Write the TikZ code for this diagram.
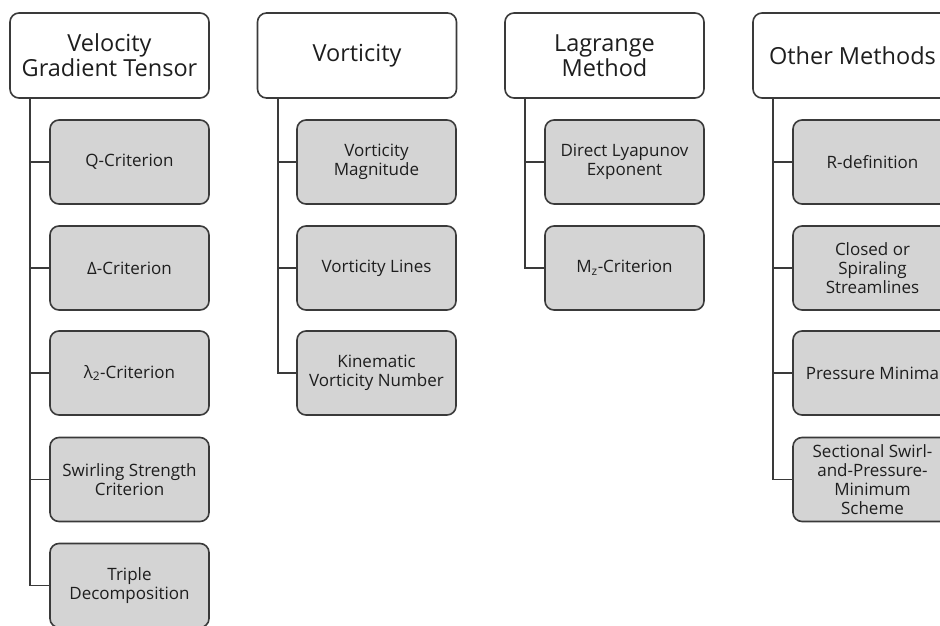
\documentclass[tikz,border=0pt]{standalone}
\usepackage{fontspec}
\setmainfont{Open Sans}
\begin{document}
\begin{tikzpicture}[x=1pt,y=-1pt,
  hdr/.style={draw=boxline, line width=1.6pt, fill=white, rounded corners=9pt,
    minimum width=199pt, minimum height=85pt, align=center, text=txt,
    font=\fontsize{23.5}{25}\selectfont, inner sep=2pt},
  child/.style={draw=boxline, line width=1.6pt, fill=boxfill, rounded corners=9pt,
    minimum width=159pt, minimum height=84pt, align=center, text=txt,
    font=\fontsize{17}{19}\selectfont, inner sep=1pt},
  conn/.style={draw=boxline, line width=1.6pt}]
\definecolor{boxline}{HTML}{3A3A3A}
\definecolor{boxfill}{HTML}{D4D4D4}
\definecolor{txt}{HTML}{1E1E1E}
\useasboundingbox (0,0) rectangle (940,626);
\clip (0,0) rectangle (940,626);

% Column 1
\node[hdr] (h1) at (109.5,55.5) {Velocity\\Gradient Tensor};
\coordinate (t1) at (30,98);
\node[child] (c11) at (129.5,162) {Q-Criterion};
\node[child] (c12) at (129.5,268) {Δ-Criterion};
\node[child] (c13) at (129.5,373) {λ\textsubscript{2}-Criterion};
\node[child] (c14) at (129.5,479.5) {Swirling Strength\\Criterion};
\node[child] (c15) at (129.5,585.5) {Triple\\Decomposition};

% Column 2
\node[hdr] (h2) at (357,55.5) {Vorticity};
\coordinate (t2) at (278,98);
\node[child] (c21) at (376.5,162) {Vorticity\\Magnitude};
\node[child] (c22) at (376.5,268) {Vorticity Lines};
\node[child] (c23) at (376.5,373) {Kinematic\\Vorticity Number};

% Column 3
\node[hdr] (h3) at (604.5,55.5) {Lagrange\\Method};
\coordinate (t3) at (525,98);
\node[child] (c31) at (624.5,162) {Direct Lyapunov\\Exponent};
\node[child] (c32) at (624.5,268) {M\textsubscript{z}-Criterion};

% Column 4
\node[hdr] (h4) at (852.5,55.5) {Other Methods};
\coordinate (t4) at (773,98);
\node[child] (c41) at (872.5,162) {R-definition};
\node[child] (c42) at (872.5,268) {Closed or\\Spiraling\\Streamlines};
\node[child] (c43) at (872.5,373) {Pressure Minima};
\node[child] (c44) at (872.5,479.5) {Sectional Swirl-\\and-Pressure-\\Minimum\\Scheme};

% connectors
\foreach \c in {c11,c12,c13,c14,c15} \draw[conn] (t1) |- (\c.west);
\foreach \c in {c21,c22,c23} \draw[conn] (t2) |- (\c.west);
\foreach \c in {c31,c32} \draw[conn] (t3) |- (\c.west);
\foreach \c in {c41,c42,c43,c44} \draw[conn] (t4) |- (\c.west);
\end{tikzpicture}
\end{document}
